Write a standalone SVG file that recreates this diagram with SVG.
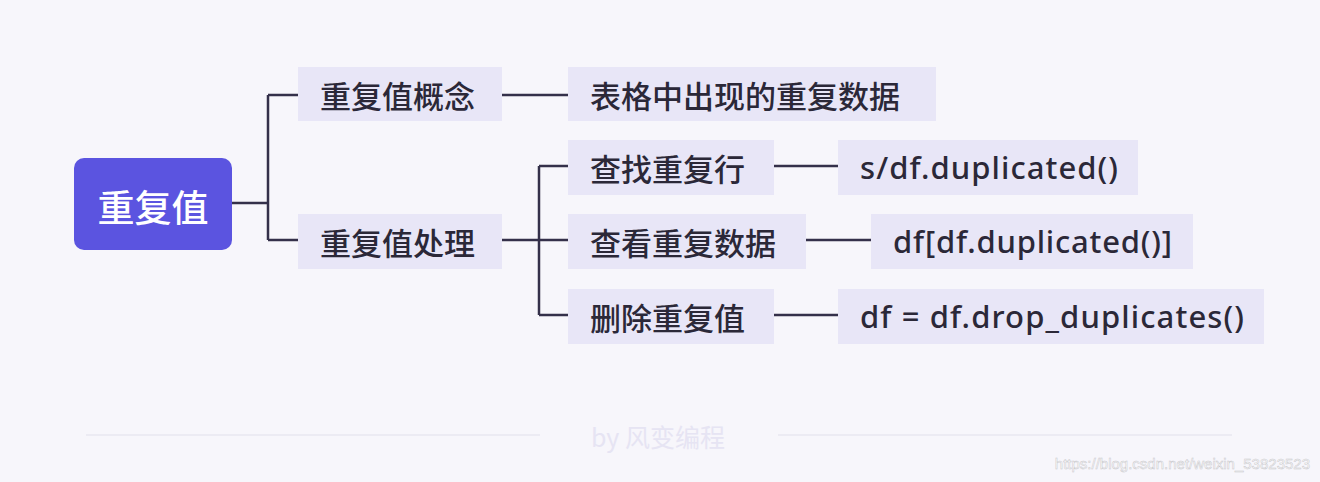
<svg xmlns="http://www.w3.org/2000/svg" width="1320" height="482" viewBox="0 0 1320 482">
<style>
.bg{fill:#f7f6fb}
.box{fill:#e8e6f7}
.t{font-family:"Noto Sans CJK SC","Noto Sans",sans-serif;font-size:31px;font-weight:500;fill:#2b2838;dominant-baseline:central}
.l{font-family:"Noto Sans","Noto Sans CJK SC",sans-serif;font-size:31px;font-weight:500;fill:#2b2838;dominant-baseline:central}
.c{fill:none;stroke:#34304a;stroke-width:2.5}
</style>
<rect class="bg" width="1320" height="482"/>
<g id="connectors">
<path class="c" d="M232 203H268M268 95V240M268 95H298M268 240H298"/>
<path class="c" d="M502 95H568"/>
<path class="c" d="M502 240H568M539 166V315M539 166H568M539 315H568"/>
<path class="c" d="M774 166H838M806 240H871M774 315H838"/>
</g>
<g id="root"><rect x="74" y="158" width="158" height="92" rx="10" fill="#5b54e0"/><text class="t" x="153" y="206" text-anchor="middle" style="fill:#fff;font-size:37px">重复值</text></g>
<g id="n1"><rect class="box" x="298" y="67" width="204" height="54"/><text class="t" x="320" y="94">重复值概念</text></g>
<g id="n2"><rect class="box" x="298" y="214" width="204" height="55"/><text class="t" x="320" y="241">重复值处理</text></g>
<g id="n3"><rect class="box" x="568" y="67" width="368" height="54"/><text class="t" x="590" y="94">表格中出现的重复数据</text></g>
<g id="n4"><rect class="box" x="568" y="140" width="206" height="55"/><text class="t" x="590" y="167">查找重复行</text></g>
<g id="n5"><rect class="box" x="568" y="214" width="238" height="55"/><text class="t" x="590" y="241">查看重复数据</text></g>
<g id="n6"><rect class="box" x="568" y="289" width="206" height="55"/><text class="t" x="590" y="316">删除重复值</text></g>
<g id="n7"><rect class="box" x="838" y="140" width="300" height="55"/><text class="l" x="860" y="167" textLength="258">s/df.duplicated()</text></g>
<g id="n8"><rect class="box" x="871" y="214" width="322" height="55"/><text class="l" x="893" y="241" textLength="279">df[df.duplicated()]</text></g>
<g id="n9"><rect class="box" x="838" y="289" width="426" height="55"/><text class="l" x="860" y="316" textLength="384">df = df.drop_duplicates()</text></g>
<g id="footer">
<path d="M86 435H540M778 435H1232" stroke="#ecebf3" stroke-width="2"/>
<text x="658" y="436" text-anchor="middle" style="font-family:'Noto Sans CJK SC',sans-serif;font-size:25px;fill:#e6e4f3;dominant-baseline:central">by 风变编程</text>
<text x="1310" y="469" text-anchor="end" style="font-family:'Liberation Sans',sans-serif;font-size:15px;fill:#ffffff;stroke:#c8c8cc;stroke-width:0.5">https://blog.csdn.net/weixin_53823523</text>
</g>
</svg>
